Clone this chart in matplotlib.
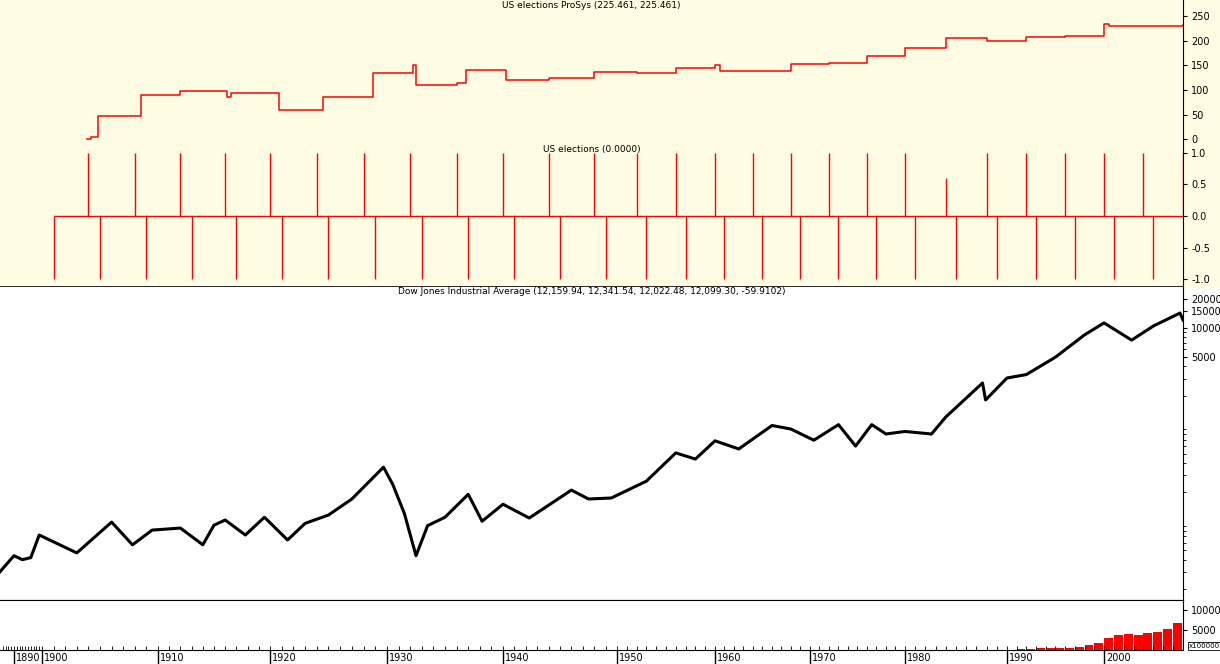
import numpy as np
import matplotlib
matplotlib.use("Agg")
import matplotlib.pyplot as plt
from matplotlib.scale import FuncScale
from matplotlib.transforms import offset_copy

# axis calibration: calendar years vs bar index (chart compresses early years)
tick_years = [1885, 1890, 1900, 1910, 1920, 1930, 1940, 1950, 1960, 1970, 1980, 1990, 2000, 2008]
tick_index = [0, 14, 42, 158, 270, 387, 503, 617, 715, 810, 905, 1007, 1104, 1183]
label_years = [1890, 1900, 1910, 1920, 1930, 1940, 1950, 1960, 1970, 1980, 1990, 2000]

# ProSys equity (step series)
prosys_years = [1903.9, 1904.2, 1904.8, 1908.0, 1908.5, 1912.0, 1916.0, 1916.2, 1916.5, 1920.0, 1920.8, 1924.0, 1924.5, 1928.0, 1928.8,
                1932.0, 1932.2, 1932.5, 1936.0, 1936.8, 1940.0, 1940.3, 1944.0, 1948.0, 1952.0, 1956.0, 1960.0, 1960.5,
                1964.0, 1968.0, 1972.0, 1976.0, 1980.0, 1984.0, 1988.0, 1992.0, 1996.0, 2000.0, 2000.5, 2004.0, 2008.0]
prosys_vals = [0, 5, 48, 48, 90, 97, 97, 85, 93, 93, 60, 60, 85, 85, 135,
               135, 150, 110, 115, 140, 140, 120, 125, 137, 135, 145, 150, 138,
               138, 152, 155, 170, 185, 205, 200, 207, 210, 235, 230, 230, 232]

# election signals
up_years = [1904, 1908, 1912, 1916, 1920, 1924, 1928, 1932, 1936, 1940, 1944, 1948, 1952, 1956, 1960,
            1964, 1968, 1972, 1976, 1980, 1984, 1988, 1992, 1996, 2000, 2004, 2008]
up_vals = [1, 1, 1, 1, 1, 1, 1, 1, 1, 1, 1, 1, 1, 1, 1, 1, 1, 1, 1, 1, 0.6, 1, 1, 1, 1, 1, 1]
down_years = [1901, 1905, 1909, 1913, 1917, 1921, 1925, 1929, 1933, 1937, 1941, 1945, 1949, 1953, 1957,
              1961, 1965, 1969, 1973, 1977, 1981, 1985, 1989, 1993, 1997, 2001, 2005]

# Dow Jones Industrial Average
dow_years = [1885, 1890, 1893, 1896, 1899, 1903, 1906, 1907.8, 1909.5, 1912, 1914, 1915, 1916, 1917.8, 1919.5, 1921.5,
             1923, 1925, 1927, 1929.7, 1930.5, 1931.5, 1932.5, 1933.5, 1935, 1937, 1938.2, 1940, 1942.3, 1946,
             1947.5, 1949.5, 1953, 1956, 1958, 1960, 1962.5, 1966, 1968, 1970.4, 1973, 1974.8, 1976.5, 1978, 1980,
             1982.6, 1984, 1987.6, 1987.9, 1990, 1992, 1995, 1998, 2000, 2002.8, 2005, 2007.7, 2008]
dow_vals = [30, 44, 40, 42, 72, 47, 98, 57, 81, 85, 57, 91, 103, 72, 110, 64,
            95, 116, 170, 363, 240, 120, 44, 90, 110, 190, 100, 150, 108, 210,
            170, 174, 260, 510, 440, 680, 560, 980, 900, 690, 1000, 600, 1000, 800, 850,
            800, 1200, 2700, 1800, 3040, 3300, 5000, 8500, 11300, 7500, 10500, 14300, 12100]

# volume (x100000)
vol_years = [1991, 1992, 1993, 1994, 1995, 1996, 1997, 1998, 1999, 2000, 2001, 2002, 2003, 2004, 2005, 2006, 2007]
vol_vals = [300, 300, 400, 400, 450, 600, 800, 1200, 1800, 3000, 3800, 4000, 3800, 4200, 4500, 5200, 6800]

fwd = lambda y: np.interp(y, tick_years, tick_index)
inv = lambda i: np.interp(i, tick_index, tick_years)

bg = "#FFFDE4"
fig = plt.figure(figsize=(12.2, 6.64), dpi=100)
W, H = 1220, 664
xr = 1183 / W

def ax_at(top, bottom, color, right=True):
    a = fig.add_axes([0, 1 - bottom / H, xr, (bottom - top) / H], facecolor=color)
    a.set_xscale(FuncScale(a, (fwd, inv)))
    a.set_xlim(1885, 2008)
    a.yaxis.tick_right()
    a.tick_params(axis="y", labelsize=7, length=3, pad=3)
    a.set_xticks([])
    for s in ["top", "left"]:
        a.spines[s].set_visible(False)
    if not right:
        a.spines["right"].set_visible(False)
    return a

fig.patches.append(plt.Rectangle((0, 1 - 287 / H), 1, 287 / H, transform=fig.transFigure, color=bg, zorder=-10))

# ProSys
a1 = ax_at(0, 145, bg)
a1.plot(prosys_years, prosys_vals, color="red", lw=1.1, drawstyle="steps-post")
a1.set_ylim(-12, 283)
a1.set_yticks([0, 50, 100, 150, 200, 250])
a1.spines["bottom"].set_visible(False)
a1.text(0.5, 0.99, "US elections ProSys (225.461, 225.461)", transform=a1.transAxes, ha="center", va="top", fontsize=6.5)

# Elections
a2 = ax_at(145, 287, bg)
a2.vlines(up_years, 0, up_vals, color="red", lw=1)
a2.vlines(down_years, -1, 0, color="red", lw=1)
a2.hlines(0, down_years[0], 2008, color="red", lw=1)
a2.set_ylim(-1.12, 1.12)
a2.set_yticks([-1.0, -0.5, 0.0, 0.5, 1.0])
a2.set_yticklabels(["-1.0", "-0.5", "0.0", "0.5", "1.0"])
a2.spines["bottom"].set_linewidth(1.2)
a2.text(0.5, 1.0, "US elections (0.0000)", transform=a2.transAxes, ha="center", va="top", fontsize=6.5)

# Dow
a3 = ax_at(287, 600, "white")
a3.plot(dow_years, dow_vals, color="black", lw=2.2)
a3.set_yscale("log")
a3.set_ylim(15.3, 26600)
a3.set_yticks([5000, 10000, 15000, 20000])
a3.set_yticklabels(["5000", "10000", "15000", "20000"])
a3.yaxis.set_minor_formatter(matplotlib.ticker.NullFormatter())
a3.text(0.5, 1.0, "Dow Jones Industrial Average (12,159.94, 12,341.54, 12,022.48, 12,099.30, -59.9102)",
        transform=a3.transAxes, ha="center", va="top", fontsize=6.5)

# Volume
a4 = ax_at(600, 650, "white")
a4.bar(vol_years, vol_vals, width=0.9, color="red", align="edge")
a4.set_ylim(0, 12600)
a4.set_yticks([5000, 10000])
a4.spines["top"].set_visible(True)
a4.spines["bottom"].set_visible(False)
a4.text(1.005, 0.02, "x100000", transform=a4.transAxes, fontsize=5, va="bottom",
        bbox=dict(fc="white", ec="black", lw=0.6, pad=0.5))

# time axis strip
a5 = ax_at(650, 664, "white", right=False)
a5.set_yticks([])
a5.spines["bottom"].set_visible(False)
a5.spines["top"].set_visible(True)
a5.set_ylim(0, 1)
a5.xaxis.tick_top()
a5.set_xticks(np.arange(1886, 2008, 1), minor=True)
a5.tick_params(axis="x", which="minor", direction="out", length=3, top=True, bottom=False)
a5.vlines(label_years, 0, 1, color="black", lw=1)
for y in label_years:
    a5.text(y, 0.45, str(y), transform=offset_copy(a5.transData, fig, x=1.5, units="points"),
            fontsize=7, ha="left", va="center")

fig.savefig("out.png", dpi=100)
